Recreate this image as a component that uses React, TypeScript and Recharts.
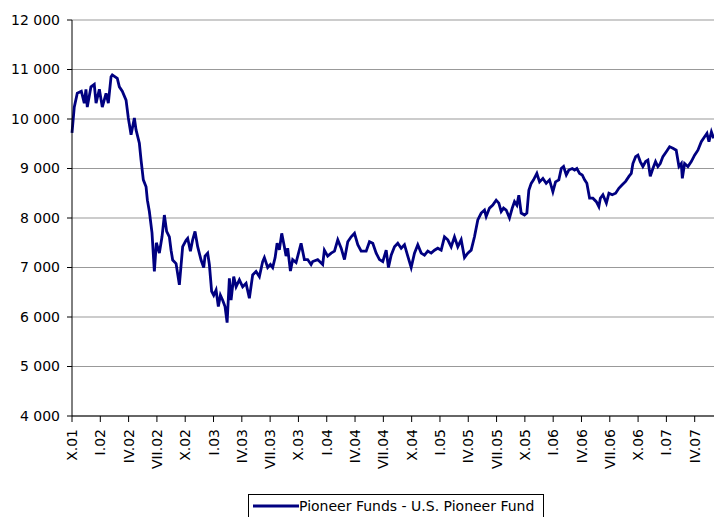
import React from 'react';
import { LineChart, Line, XAxis, YAxis, CartesianGrid, Legend } from 'recharts';

// months elapsed since start of October 2001
const monthsSinceOct01 = [
  0.0, 0.24, 0.56, 0.99, 1.3, 1.48, 1.62, 2.01, 2.36, 2.55,
  2.9, 3.21, 3.61, 3.85, 4.14, 4.27, 4.8, 5.02, 5.33, 5.73,
  5.97, 6.26, 6.61, 6.79, 7.14, 7.32, 7.56, 7.85, 7.99, 8.2,
  8.48, 8.73, 8.94, 9.26, 9.54, 9.79, 10.03, 10.32, 10.5, 10.67,
  11.03, 11.38, 11.73, 12.09, 12.26, 12.55, 12.79, 13.04, 13.32, 13.68,
  13.96, 14.1, 14.38, 14.56, 14.8, 15.02, 15.27, 15.51, 15.73, 15.97,
  16.22, 16.44, 16.68, 16.86, 17.14, 17.39, 17.74, 18.09, 18.45, 18.8,
  19.15, 19.51, 19.86, 20.21, 20.39, 20.74, 21.03, 21.27, 21.53, 21.74,
  21.98, 22.23, 22.51, 22.69, 22.86, 23.15, 23.39, 23.75, 24.28, 24.63,
  24.98, 25.34, 25.51, 26.04, 26.57, 26.75, 27.1, 27.47, 27.82, 28.17,
  28.53, 28.88, 29.23, 29.59, 29.94, 30.29, 30.65, 31.18, 31.53, 31.88,
  32.24, 32.59, 32.94, 33.3, 33.54, 33.83, 34.18, 34.53, 34.89, 35.24,
  35.59, 35.95, 36.3, 36.65, 37.01, 37.36, 37.71, 38.07, 38.42, 38.77,
  39.13, 39.48, 39.83, 40.19, 40.54, 40.89, 41.25, 41.6, 41.95, 42.31,
  42.66, 43.01, 43.37, 43.72, 43.9, 44.25, 44.6, 44.96, 45.24, 45.49,
  45.74, 46.02, 46.37, 46.66, 46.9, 47.15, 47.36, 47.61, 47.96, 48.21,
  48.42, 48.67, 48.92, 49.27, 49.56, 49.91, 50.26, 50.61, 50.97, 51.25,
  51.6, 51.86, 52.1, 52.39, 52.66, 53.02, 53.27, 53.51, 53.8, 54.08,
  54.33, 54.57, 54.86, 55.21, 55.57, 55.84, 56.0, 56.27, 56.64, 56.91,
  57.26, 57.62, 57.96, 58.32, 58.68, 59.03, 59.28, 59.45, 59.74, 59.98,
  60.23, 60.51, 60.8, 61.04, 61.29, 61.57, 61.85, 62.1, 62.35, 62.63,
  62.99, 63.34, 63.69, 64.04, 64.33, 64.58, 64.69, 64.93, 65.28, 65.64,
  65.99, 66.34, 66.7, 67.05, 67.3, 67.51, 67.77, 68.01,
];

const fundValues = [
  9720, 10240, 10520, 10560, 10320, 10600, 10240, 10650, 10700, 10320,
  10600, 10240, 10520, 10320, 10855, 10890, 10820, 10650, 10560, 10380,
  10020, 9680, 10020, 9780, 9510, 9170, 8770, 8630, 8360, 8130,
  7700, 6920, 7500, 7290, 7620, 8060, 7730, 7620, 7350, 7150,
  7080, 6650, 7420, 7550, 7590, 7330, 7560, 7730, 7420, 7150,
  7000, 7230, 7290, 7060, 6520, 6440, 6545, 6210, 6440, 6340,
  6210, 5885, 6780, 6340, 6815, 6610, 6750, 6610, 6680, 6380,
  6850, 6920, 6815, 7120, 7200, 7000, 7060, 7000, 7200, 7490,
  7360, 7690, 7420, 7230, 7390, 6930, 7160, 7100, 7490, 7160,
  7160, 7060, 7120, 7160, 7060, 7350, 7230, 7290, 7330, 7560,
  7390, 7160, 7520, 7620, 7690, 7460, 7330, 7330, 7520, 7490,
  7290, 7160, 7120, 7350, 7000, 7250, 7420, 7490, 7390, 7460,
  7230, 7000, 7290, 7460, 7290, 7250, 7330, 7290, 7350, 7390,
  7350, 7620, 7560, 7420, 7620, 7420, 7560, 7200, 7290, 7350,
  7620, 7960, 8100, 8160, 8030, 8200, 8260, 8360, 8300, 8130,
  8200, 8160, 8000, 8200, 8330, 8260, 8460, 8100, 8060, 8100,
  8560, 8700, 8770, 8900, 8730, 8800, 8700, 8770, 8530, 8730,
  8770, 9000, 9040, 8870, 8970, 9000, 8970, 9000, 8900, 8870,
  8770, 8700, 8400, 8400, 8330, 8230, 8400, 8470, 8300, 8500,
  8470, 8500, 8600, 8670, 8740, 8840, 8900, 9100, 9240, 9270,
  9140, 9040, 9140, 9170, 8840, 9000, 9140, 9040, 9100, 9240,
  9340, 9440, 9410, 9370, 9040, 9100, 8800, 9100, 9040, 9140,
  9270, 9370, 9540, 9640, 9710, 9540, 9740, 9610,
];

const quarterTicks = [0, 3, 6, 9, 12, 15, 18, 21, 24, 27, 30, 33, 36, 39, 42, 45, 48, 51, 54, 57, 60, 63, 66];
const quarterLabels = [
  'X.01', 'I.02', 'IV.02', 'VII.02', 'X.02', 'I.03', 'IV.03', 'VII.03',
  'X.03', 'I.04', 'IV.04', 'VII.04', 'X.04', 'I.05', 'IV.05', 'VII.05',
  'X.05', 'I.06', 'IV.06', 'VII.06', 'X.06', 'I.07', 'IV.07',
];
const valueTicks = [4000, 5000, 6000, 7000, 8000, 9000, 10000, 11000, 12000];

const seriesName = 'Pioneer Funds - U.S. Pioneer Fund';
const lineColor = '#000080';
const font = '"DejaVu Sans", Verdana, sans-serif';

const data = monthsSinceOct01.map((m, i) => ({ m, value: fundValues[i] }));

const fmtThousands = (v: number) => String(v).replace(/\B(?=(\d{3})+(?!\d))/g, ' ');

const QuarterTick = (props: any) => {
  const { x, y, payload } = props;
  const idx = quarterTicks.indexOf(payload.value);
  return (
    <g transform={`translate(${x},${y + 5})`}>
      <text
        transform="rotate(-90)"
        textAnchor="end"
        dy="0.36em"
        fontFamily={font}
        fontSize={14}
        fill="#000"
      >
        {quarterLabels[idx]}
      </text>
    </g>
  );
};

const LegendBox = () => (
  <div
    style={{
      border: '1px solid #000',
      height: 30,
      boxSizing: 'border-box',
      display: 'flex',
      alignItems: 'flex-start',
      paddingTop: 3,
      paddingLeft: 4,
      background: '#fff',
    }}
  >
    <svg width={46} height={16} style={{ display: 'block' }}>
      <line x1={0} y1={8} x2={46} y2={8} stroke={lineColor} strokeWidth={3} />
    </svg>
    <span style={{ fontFamily: font, fontSize: 14, lineHeight: '16px', color: '#000', whiteSpace: 'nowrap' }}>
      {seriesName}
    </span>
  </div>
);

export default function App() {
  return (
    <div
      style={{
        position: 'fixed',
        left: 0,
        top: 0,
        width: 714,
        height: 517,
        overflow: 'hidden',
        background: '#fff',
      }}
    >
      <LineChart
        width={740}
        height={530}
        data={data}
        margin={{ top: 20, right: 17, left: 0, bottom: 6 }}
      >
        <CartesianGrid vertical={false} stroke="#999" />
        <XAxis
          type="number"
          dataKey="m"
          domain={[0, 69]}
          ticks={quarterTicks}
          interval={0}
          tick={<QuarterTick />}
          tickSize={6}
          height={78}
          axisLine={{ stroke: '#000' }}
          tickLine={{ stroke: '#000' }}
        />
        <YAxis
          domain={[4000, 12000]}
          ticks={valueTicks}
          interval={0}
          width={72}
          tickSize={5}
          tickMargin={7}
          tickFormatter={fmtThousands}
          tick={{ fontFamily: font, fontSize: 14, fill: '#000' }}
          axisLine={{ stroke: '#000' }}
          tickLine={{ stroke: '#000' }}
        />
        <Legend
          verticalAlign="bottom"
          height={30}
          content={<LegendBox />}
          wrapperStyle={{ left: 248, width: 296 }}
        />
        <Line
          type="linear"
          dataKey="value"
          name={seriesName}
          stroke={lineColor}
          strokeWidth={2.8}
          dot={false}
          isAnimationActive={false}
        />
      </LineChart>
    </div>
  );
}
